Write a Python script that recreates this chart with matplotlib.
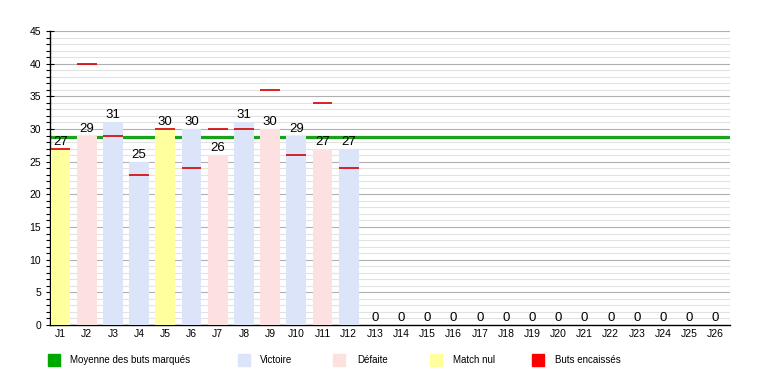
import matplotlib
matplotlib.use("Agg")
import matplotlib.pyplot as plt
from matplotlib.patches import Rectangle
from matplotlib.ticker import MultipleLocator

plt.rcParams['font.family'] = ['Liberation Sans', 'DejaVu Sans']

journees = [f"J{i}" for i in range(1, 27)]
buts_marques = [27, 29, 31, 25, 30, 30, 26, 31, 30, 29, 27, 27] + [0] * 14
buts_encaisses = [27, 40, 29, 23, 30, 24, 30, 30, 36, 26, 34, 24]
resultats = ["N", "D", "V", "V", "N", "V", "D", "V", "D", "V", "D", "V"]
moyenne = 28.7

couleurs = {"V": "#dce4fa", "D": "#fde1e1", "N": "#ffff9e"}
legende = [("Moyenne des buts marqués", "#00a800"),
           ("Victoire", "#dce4fa"),
           ("Défaite", "#fde1e1"),
           ("Match nul", "#ffff9e"),
           ("Buts encaissés", "#ff0000")]

fig = plt.figure(figsize=(7.6, 3.75), dpi=100)
ax = fig.add_axes([50/760, 1 - 325/375, 680/760, 294/375])

x = list(range(len(journees)))
w = 0.75
bar_colors = [couleurs[r] for r in resultats] + ["#ffffff"] * (len(journees) - len(resultats))
ax.bar(x, buts_marques, width=w, color=bar_colors, zorder=3)

ax.axhline(moyenne, color="#1aa31a", lw=2.3, zorder=2)

for i, v in enumerate(buts_encaisses):
    ax.hlines(v, i - w/2, i + w/2, color="#d40000", lw=1.2, zorder=4)

for i, v in enumerate(buts_marques):
    ax.text(i, v + 0.15, str(v), ha="center", va="bottom", fontsize=9.5, zorder=5)

ax.set_xlim(-0.4, 25.55)
ax.set_ylim(0, 45)
ax.yaxis.set_major_locator(MultipleLocator(5))
ax.yaxis.set_minor_locator(MultipleLocator(1))
ax.grid(which="major", axis="y", color="#b0b0b0", lw=0.8, zorder=0)
ax.grid(which="minor", axis="y", color="#e2e2e2", lw=0.8, zorder=0)
ax.set_axisbelow(True)

ax.set_xticks(x)
ax.set_xticklabels(journees, fontsize=7.5)
ax.tick_params(axis="x", length=0, pad=3)
ax.tick_params(axis="y", which="major", direction="inout", length=6, labelsize=7.5, width=0.8)
ax.tick_params(axis="y", which="minor", direction="out", length=3, width=0.8)

for s in ["top", "right"]:
    ax.spines[s].set_visible(False)
ax.spines["left"].set_linewidth(1)
ax.spines["bottom"].set_linewidth(1)

# legend
positions = [48, 238, 333, 430, 532]
text_x = [70, 260, 357, 453, 555]
for (lab, col), px, tx in zip(legende, positions, text_x):
    fig.patches.append(Rectangle((px/760, 1 - 366/375), 12/760, 12/375,
                                 transform=fig.transFigure, color=col, figure=fig))
    fig.text(tx/760, 1 - 360/375, lab, fontsize=7, va="center", ha="left")

fig.savefig("out.png", dpi=100)
